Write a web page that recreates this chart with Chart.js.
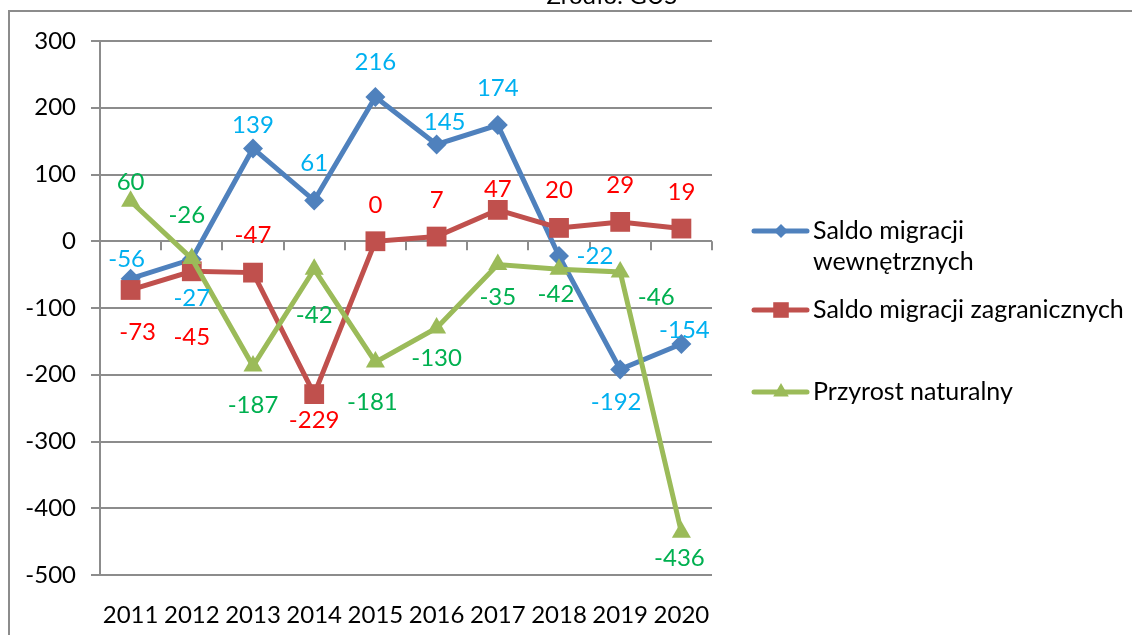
<!DOCTYPE html>
<html>
<head>
<meta charset="utf-8">
<script src="https://cdn.jsdelivr.net/npm/chart.js@4.4.0/dist/chart.umd.min.js"></script>
<style>
  html, body { margin: 0; padding: 0; background: #fff; }
  canvas { display: block; }
</style>
</head>
<body>
<canvas id="chart" width="1132" height="635"></canvas>
<script>
// dane
const years = ['2011', '2012', '2013', '2014', '2015', '2016', '2017', '2018', '2019', '2020'];
const saldoWewnetrzne = [-56, -27, 139, 61, 216, 145, 174, -22, -192, -154];
const saldoZagraniczne = [-73, -45, -47, -229, 0, 7, 47, 20, 29, 19];
const przyrostNaturalny = [60, -26, -187, -42, -181, -130, -35, -42, -46, -436];
const yMin = -500, yMax = 300, yStep = 100;
const seriesNames = [['Saldo migracji', 'wewnętrznych'], ['Saldo migracji zagranicznych'], ['Przyrost naturalny']];
const sourceNote = 'Źródło: GUS';

// przesunięcia etykiet danych (dx, dy) wzgledem punktu
const blueLabelPos = [[-4, -19], [0, 39], [0, -23], [0, -37], [0, -35], [8, -22], [0, -37], [36, 0], [-4, 33], [3, -14]];
const redLabelPos = [[7, 42], [0, 66], [0, -37], [0, 26], [0, -36], [0, -36], [0, -21], [0, -38], [0, -37], [0, -36]];
const greenLabelPos = [[0, -19], [-5, -43], [0, 39], [0, 46], [-3, 40], [0, 30], [0, 33], [-3, 25], [36, 25], [-2, 26]];

const FONT = 'Lato, "Noto Sans", sans-serif';
const FONT_SIZE = 24;
const LEGEND_FONT_SIZE = 25;
const GRID = '#8c8c8c';

const series = [
  { data: saldoWewnetrzne, color: '#4F81BD', labelColor: '#00B0F0', style: 'rectRot', radius: 10, legendRadius: 7, pos: blueLabelPos },
  { data: saldoZagraniczne, color: '#C0504D', labelColor: '#FF0000', style: 'rect', radius: 14, legendRadius: 11, pos: redLabelPos },
  { data: przyrostNaturalny, color: '#9BBB59', labelColor: '#00B050', style: 'triangle', radius: 11, legendRadius: 9, pos: greenLabelPos }
];

const decorations = {
  id: 'decorations',
  beforeDraw(chart) {
    const ctx = chart.ctx;
    ctx.save();
    // ramka
    ctx.strokeStyle = GRID;
    ctx.lineWidth = 2;
    ctx.beginPath();
    ctx.moveTo(9, chart.height);
    ctx.lineTo(9, 11);
    ctx.lineTo(chart.width, 11);
    ctx.stroke();
    // źródło (przycięte u góry)
    ctx.fillStyle = '#000';
    ctx.font = FONT_SIZE + 'px ' + FONT;
    ctx.textAlign = 'center';
    ctx.textBaseline = 'alphabetic';
    ctx.fillText(sourceNote, 612, 4);
    ctx.restore();
  },
  beforeDatasetsDraw(chart) {
    // znaczniki osi X na linii zera
    const ctx = chart.ctx;
    const xs = chart.scales.x, ys = chart.scales.y;
    const step = xs.getPixelForValue(1) - xs.getPixelForValue(0);
    const y0 = ys.getPixelForValue(0);
    ctx.save();
    ctx.strokeStyle = GRID;
    ctx.lineWidth = 2;
    ctx.beginPath();
    for (let i = 0; i <= years.length; i++) {
      const x = Math.round(xs.getPixelForValue(0) - step / 2 + i * step);
      ctx.moveTo(x, y0);
      ctx.lineTo(x, y0 + 9);
    }
    ctx.stroke();
    ctx.restore();
  },
  afterDatasetsDraw(chart) {
    // etykiety danych
    const ctx = chart.ctx;
    ctx.save();
    ctx.font = FONT_SIZE + 'px ' + FONT;
    ctx.textAlign = 'center';
    ctx.textBaseline = 'middle';
    series.forEach((s, di) => {
      const meta = chart.getDatasetMeta(di);
      meta.data.forEach((pt, i) => {
        ctx.fillStyle = s.labelColor;
        ctx.fillText(String(s.data[i]), pt.x + s.pos[i][0], pt.y + s.pos[i][1]);
      });
    });
    ctx.restore();
  },
  afterDraw(chart) {
    // legenda
    const ctx = chart.ctx;
    const rows = [[231, 262], [310], [392]];
    ctx.save();
    ctx.font = LEGEND_FONT_SIZE + 'px ' + FONT;
    ctx.textAlign = 'left';
    ctx.textBaseline = 'middle';
    series.forEach((s, i) => {
      const y = rows[i][0];
      ctx.strokeStyle = s.color;
      ctx.lineWidth = 5;
      ctx.lineCap = 'round';
      ctx.beginPath();
      ctx.moveTo(754, y);
      ctx.lineTo(807, y);
      ctx.stroke();
      ctx.fillStyle = s.color;
      Chart.helpers.drawPoint(ctx, { pointStyle: s.style, radius: s.legendRadius, rotation: 0, borderWidth: 0 }, 781, y);
      ctx.fillStyle = '#000';
      seriesNames[i].forEach((line, j) => ctx.fillText(line, 813, rows[i][j]));
    });
    ctx.restore();
  }
};

new Chart(document.getElementById('chart'), {
  type: 'line',
  data: {
    labels: years,
    datasets: series.map((s, i) => ({
      label: seriesNames[i].join(' '),
      data: s.data,
      borderColor: s.color,
      backgroundColor: s.color,
      borderWidth: 5,
      pointStyle: s.style,
      pointRadius: s.radius,
      pointHoverRadius: s.radius,
      pointBackgroundColor: s.color,
      pointBorderColor: s.color,
      pointBorderWidth: 0,
      tension: 0,
      clip: false,
      order: 2 - i
    }))
  },
  options: {
    responsive: false,
    animation: false,
    events: [],
    layout: { padding: { top: 41, right: 420, left: 0, bottom: 0 } },
    plugins: {
      legend: { display: false },
      tooltip: { enabled: false }
    },
    scales: {
      x: {
        offset: true,
        grid: { display: false },
        border: { display: false },
        ticks: { color: '#000', font: { family: FONT, size: FONT_SIZE }, padding: 18, maxRotation: 0 },
        afterFit(scale) { scale.height = 60; }
      },
      y: {
        min: yMin,
        max: yMax,
        ticks: { stepSize: yStep, color: '#000', font: { family: FONT, size: FONT_SIZE }, padding: 15 },
        grid: { color: GRID, lineWidth: 2, tickLength: 9, drawTicks: true },
        border: { display: true, color: GRID, width: 2 },
        afterFit(scale) { scale.width = 100; }
      }
    }
  },
  plugins: [decorations]
});
</script>
</body>
</html>
